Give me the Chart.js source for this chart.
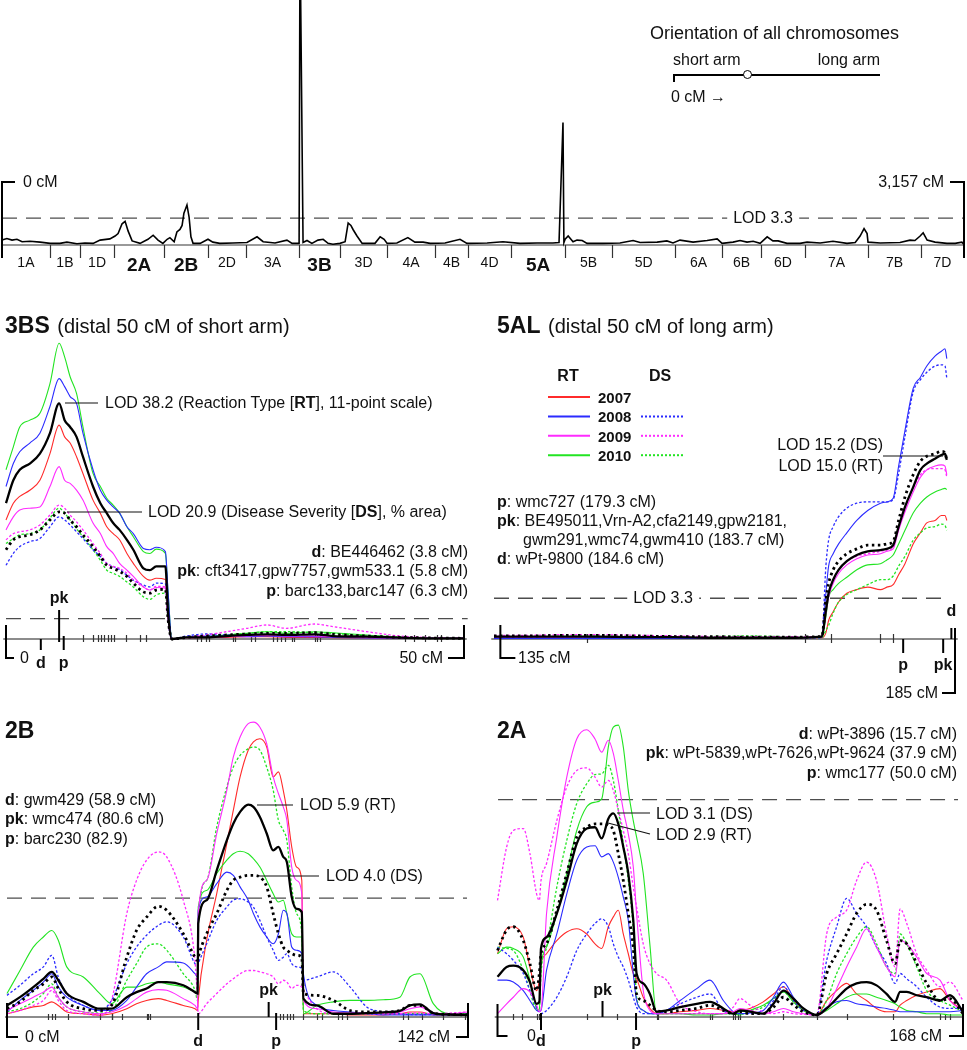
<!DOCTYPE html>
<html>
<head>
<meta charset="utf-8">
<script src="https://cdn.jsdelivr.net/npm/chart.js@4.4.1/dist/chart.umd.min.js"></script>
<style>
html, body { margin: 0; padding: 0; background: #fff; }
#wrap { position: relative; width: 967px; height: 1050px; overflow: hidden; font-family: Arial, "Liberation Sans", sans-serif; color: #111; }
#wrap canvas { position: absolute; left: 0; top: 0; }
.lbl { position: absolute; white-space: nowrap; font-size: 16px; line-height: 1; }
.bg { background: #fff; padding: 0 6px; }
.ttl { font-size: 20px; }
.ttl b { font-size: 23px; margin-right: 2px; }
.chr { font-size: 14px; }
.big { font-size: 19px; font-weight: bold; }
.mk { font-weight: bold; }
.leg { font-weight: bold; font-size: 15px; }
.head { font-size: 18px; }
.orient { position: absolute; }
</style>
</head>
<body>
<div id="wrap">
  <canvas id="cGenome" width="967" height="1050"></canvas>
  <canvas id="c3BS" width="967" height="1050"></canvas>
  <canvas id="c5AL" width="967" height="1050"></canvas>
  <canvas id="c2B" width="967" height="1050"></canvas>
  <canvas id="c2A" width="967" height="1050"></canvas>
  <div class="orient" style="left:673px;top:74px;width:207px;border-top:2px solid #000;"></div>
  <div class="orient" style="left:673px;top:74px;height:8px;border-left:2px solid #000;"></div>
  <div class="orient" style="left:743px;top:70px;width:7px;height:7px;border:1.5px solid #000;border-radius:50%;background:#fff;"></div>
</div>
<script>
const W = 967, H = 1050;
const lodThreshold = 3.3;

// genome-wide scan
const chromNames = ['1A','1B','1D','2A','2B','2D','3A','3B','3D','4A','4B','4D','5A','5B','5D','6A','6B','6D','7A','7B','7D'];
const chromBold = ['2A','2B','3B','5A'];
const chromEnds = [157,256,368,532,676,801,975,1109,1264,1421,1529,1671,1848,2002,2209,2363,2491,2635,2842,3016,3157];
const genomeCM = [0,16,33,49,66,92,125,158,190,213,246,272,299,322,354,371,381,394,404,414,427,453,479,496,512,528,542,551,565,574,584,591,597,607,614,620,627,650,676,692,715,758,804,837,857,896,935,952,975,978,988,1001,1017,1037,1054,1070,1086,1109,1126,1136,1145,1152,1165,1182,1224,1241,1254,1264,1296,1332,1355,1382,1405,1454,1503,1526,1592,1644,1700,1756,1808,1828,1841,1844,1848,1858,1874,1887,1904,1920,1972,2028,2071,2094,2150,2182,2202,2225,2268,2314,2347,2363,2399,2422,2445,2465,2488,2511,2530,2547,2576,2619,2642,2685,2727,2773,2800,2816,2829,2839,2842,2882,2947,2980,2996,3013,3023,3036,3062,3101,3128,3150,3157];
const genomeLOD = [0.6,0.8,0.6,0.7,0.4,0.45,0.35,0.2,0.2,0.35,0.15,0.25,0.2,0.6,0.75,1.1,1.4,2.6,2.9,1.7,0.5,0.2,0.7,1.2,0.6,0.2,0.7,0.9,0.4,1.6,1.9,2.4,3.9,4.9,3.4,1.0,0.2,0.2,0.7,0.35,0.2,0.25,0.3,1.0,0.4,0.25,0.6,0.2,0.2,38.2,0.3,0.55,0.2,0.6,0.7,0.2,0.1,0.2,0.4,2.7,2.4,1.9,1.1,0.2,0.2,1.0,0.7,0.2,0.25,0.9,0.35,0.35,0.2,0.25,0.7,0.2,0.25,0.4,0.2,0.25,0.25,0.3,15.0,0.3,0.7,1.1,0.4,0.6,0.55,0.2,0.2,0.25,0.55,0.3,0.35,0.5,0.25,0.6,0.35,0.55,0.75,0.2,0.35,0.55,0.35,0.45,0.2,1.0,0.5,0.5,0.2,0.2,0.35,0.25,0.45,0.2,0.3,1.1,2.0,1.4,0.35,0.25,0.3,0.6,0.55,1.1,1.5,0.6,0.35,0.2,0.2,0.35,0.05];

// 3BS, distal 50 cM of short arm
const s3bCM = [0,0.8,1.5,2.6,3.7,4.8,5.8,6.4,7.0,7.7,8.4,9.5,10.3,11.0,11.7,12.4,13.2,13.9,15.0,15.7,16.4,17.4,17.7,18.1,19.7,21.9,24.1,26.3,28.5,30.6,33.7,35.7,39.4,43.0,46.6,50];
const s3bRTall = [21.9,25.6,27.3,28.3,29.9,33.2,38.0,35.3,34.2,32.6,29.4,24.6,21.9,20.3,18.7,17.6,16.0,14.4,11.4,11.1,11.7,11.7,4.1,0,0.27,0.27,0.48,0.65,0.75,0.65,0.75,0.48,0.38,0.22,0.11,0.11];
const s3bDSall = [14.4,16.0,16.5,16.8,17.6,19.2,20.5,20.3,19.2,18.1,16.8,14.9,13.3,11.9,11.4,10.9,10.1,9.0,7.6,7.4,7.9,8.0,3.1,0,0.27,0.48,0.65,0.81,0.91,0.91,1.02,0.75,0.48,0.27,0.16,0.11];
const s3bRT2007 = [19.2,21.9,23.0,24.0,25.6,29.9,34.5,32.6,31.6,29.4,26.7,22.4,20.3,18.1,17.0,16.0,13.8,12.2,10.1,9.5,9.8,9.6,3.6,0,0.22,0.27,0.27,0.38,0.38,0.27,0.27,0.22,0.16,0.11,0.11,0.11];
const s3bRT2008 = [24.6,28.3,30.2,31.6,33.2,37.5,42.0,40.7,39.1,38.0,33.2,27.3,24.0,22.4,21.3,20.3,18.1,17.0,14.6,14.4,14.8,14.1,7.4,0,0.27,0.48,0.48,0.38,0.48,0.38,0.38,0.27,0.16,0.11,0.11,0.11];
const s3bRT2009 = [17.6,19.7,20.8,21.1,21.3,24.6,27.8,25.6,25.1,24.0,22.4,18.7,17.0,14.9,13.8,12.2,11.1,10.1,8.4,7.9,8.3,8.2,3.1,0,0.22,0.27,0.38,0.48,0.59,0.48,0.48,0.38,0.27,0.16,0.11,0.11];
const s3bRT2010 = [27.3,31.0,34.2,35.3,36.4,41.2,47.7,45.5,42.3,39.6,34.2,26.7,24.6,22.7,21.6,20.3,18.1,16.5,14.1,13.8,14.5,13.8,7.4,0,0.27,0.38,0.65,0.91,1.18,0.91,1.18,1.0,0.65,0.27,0.16,0.1];
const s3bDS2008 = [11.9,13.8,14.9,15.7,16.2,18.1,19.7,19.2,18.4,17.3,16.2,14.4,13.3,12.2,11.7,11.2,10.3,9.5,8.7,8.4,9.0,8.9,3.1,0,0.48,0.81,0.65,0.48,0.65,0.48,0.38,0.38,0.27,0.16,0.11,0.11];
const s3bDS2009 = [16.0,17.0,17.3,17.6,18.4,20.0,21.6,21.1,20.0,18.9,17.6,15.4,13.8,12.2,11.7,11.4,10.6,9.5,8.4,7.9,8.5,8.4,3.1,0,0.27,0.65,1.18,1.72,2.26,1.72,2.42,2.0,1.18,0.48,0.22,0.11];
const s3bDS2010 = [15.4,16.2,16.8,17.0,17.6,19.5,21.1,20.3,19.2,17.8,16.5,14.4,12.7,11.1,10.6,10.1,9.2,8.4,6.8,6.4,7.1,7.4,3.1,0,0.22,0.38,0.65,0.91,1.18,1.18,1.02,0.91,0.48,0.27,0.16,0.11];
const s3bTicks = [8.4,9.5,10.0,10.4,10.7,11.1,11.5,11.8,13.1,14.6,15.3,20.9,21.3,21.8,22.2,24.8,25.0,26.8,27.2,29.2,29.6,30.0,30.5,31.2,31.4,33.7,34.0,34.3,43.6,44.5,45.7,47.1,47.5];
const s3bMarkerCM = [3.8,5.8,6.3];
const s3bMarkerName = ['d','pk','p'];

// 5AL, distal 50 cM of long arm
const s5aCM = [134.3,138,142,146,150,154,158,162,166,170.35,170.8,171.1,171.6,172.2,173.1,174.2,175.4,176.8,177.5,178.2,178.8,179.5,180.4,181.2,181.9,182.8,183.5,183.9,184.1];
const s5aRTall = [0.2,0.2,0.2,0.2,0.15,0.15,0.1,0.1,0.1,0.2,2.3,3.7,4.8,5.6,6.3,6.8,7.1,7.2,7.3,7.6,9.1,10.7,12.3,13.7,14.2,14.6,14.9,15.0,14.5];
const s5aDSall = [0.25,0.25,0.3,0.3,0.25,0.2,0.2,0.15,0.15,0.2,3.2,4.5,5.6,6.3,6.9,7.3,7.6,7.6,7.7,7.9,9.6,11.5,13.3,14.4,14.8,15.0,15.2,15.1,14.4];
const s5aRT2007 = [0.2,0.2,0.2,0.15,0.15,0.15,0.1,0.1,0.1,0.1,0.5,1.5,2.2,3.0,3.7,4.0,4.2,4.0,4.2,4.4,5.2,6.1,7.7,8.6,9.4,9.6,10.0,10.0,9.6];
const s5aRT2008 = [0.05,0.05,0.05,0.05,0.05,0.05,0.05,0.05,0.1,0.15,3.7,5.9,6.9,7.7,8.6,9.6,10.4,11.0,11.1,11.4,14.0,16.9,20.3,21.2,22.1,22.9,23.3,23.5,22.7];
const s5aRT2009 = [0.15,0.15,0.15,0.2,0.15,0.15,0.1,0.1,0.1,0.15,2.1,3.4,4.5,5.3,6.0,6.5,6.8,6.9,7.1,7.3,8.8,10.3,11.9,13.1,13.7,14.0,14.1,14.0,13.3];
const s5aRT2010 = [0.15,0.15,0.1,0.1,0.1,0.1,0.1,0.1,0.1,0.15,1.8,3.4,4.0,4.5,5.0,5.6,6.0,6.1,6.4,6.8,7.7,8.8,10.2,11.0,11.5,11.9,12.1,12.2,12.1];
const s5aDS2008 = [0.1,0.1,0.1,0.1,0.1,0.1,0.1,0.1,0.1,0.1,5.9,8.0,9.1,9.9,10.6,11.0,11.1,11.1,11.1,11.3,13.4,16.4,20.0,21.0,21.6,22.1,22.2,22.1,21.1];
const s5aDS2009 = [0.3,0.3,0.35,0.35,0.3,0.25,0.2,0.2,0.2,0.2,2.3,3.7,4.8,5.6,6.3,6.7,6.9,7.1,7.2,7.4,9.1,10.6,12.2,13.3,13.7,13.8,13.8,13.7,13.1];
const s5aDS2010 = [0.2,0.2,0.25,0.25,0.25,0.2,0.2,0.25,0.2,0.1,0.7,1.1,2.1,3.0,3.6,4.0,4.4,4.8,4.8,5.1,5.9,6.7,8.0,8.6,9.0,9.1,9.3,9.2,8.8];
const s5aTicks = [144.5,168.5,171.4,176.8,178.2];
const s5aMarkerCM = [179.3,183.7,184.6];
const s5aMarkerName = ['p','pk','d'];
const legendYears = [2007,2008,2009,2010];

// 2B, whole chromosome
const s2bCM = [0,4.0,8.1,11.2,13.8,15.8,18.4,23.5,28.6,32.2,36.9,39.9,43.0,46.6,49.2,54.3,57.9,58.7,58.9,61.5,64.6,67.7,69.7,71.8,74.3,75.9,77.9,80.0,82.0,83.6,85.1,86.2,87.7,89.2,90.8,91.3,95.4,100.5,105.7,110.8,115.9,121.0,124.1,127.2,131.3,136.4,142];
const s2bRTall = [0.32,0.55,0.83,1.06,1.25,1.02,0.65,0.42,0.23,0.23,0.55,0.69,0.79,0.97,0.97,0.88,0.69,0.65,2.59,3.24,4.07,4.9,5.36,5.69,5.89,5.83,5.55,5.09,4.62,4.72,4.44,4.3,3.33,3.0,2.91,0.51,0.32,0.09,0.09,0.11,0.13,0.17,0.32,0.35,0.11,0.07,0.06];
const s2bDSall = [0.23,0.42,0.74,0.92,1.11,0.79,0.42,0.23,0.18,0.32,1.66,2.4,2.77,3.07,2.96,2.31,1.66,1.57,1.66,2.31,2.87,3.51,3.79,3.88,3.93,3.93,3.88,3.61,2.87,2.31,1.94,1.85,1.76,1.71,1.66,0.65,0.6,0.46,0.18,0.14,0.14,0.18,0.32,0.32,0.11,0.07,0.06];
const s2bRT2007 = [0.09,0.18,0.28,0.32,0.42,0.32,0.14,0.09,0.05,0.09,0.23,0.37,0.46,0.51,0.46,0.32,0.23,0.18,0.46,2.13,3.42,4.81,5.73,6.66,7.4,7.63,7.72,7.49,6.66,6.8,6.29,5.73,4.72,4.16,3.79,0.09,0.09,0.09,0.06,0.06,0.06,0.09,0.14,0.14,0.06,0.06,0.06];
const s2bRT2008 = [0.14,0.46,0.74,0.97,1.2,0.83,0.55,0.32,0.18,0.18,0.46,0.83,1.2,1.39,1.53,1.5,1.2,1.11,2.96,3.33,3.7,4.02,3.93,3.61,3.24,2.87,2.5,2.22,2.03,2.31,2.96,2.87,1.94,1.85,1.76,1.2,0.32,0.18,0.14,0.09,0.06,0.06,0.06,0.06,0.06,0.06,0.06];
const s2bRT2009 = [0.18,0.37,0.55,0.69,0.83,0.55,0.28,0.14,0.09,0.14,0.32,0.51,0.69,0.76,0.74,0.51,0.32,0.23,2.87,3.79,5.09,6.29,7.21,7.77,8.14,8.18,8.04,7.58,6.66,6.2,5.83,5.46,4.16,3.79,3.42,0.46,0.23,0.14,0.11,0.11,0.11,0.14,0.23,0.28,0.11,0.09,0.14];
const s2bRT2010 = [0.65,1.29,1.94,2.22,2.4,2.13,1.39,1.11,0.65,0.37,0.83,0.83,0.92,0.97,0.92,0.83,0.69,0.65,3.05,3.51,3.98,4.35,4.53,4.6,4.53,4.39,4.16,3.79,3.42,3.19,3.24,2.87,2.31,2.22,2.22,0.09,0.32,0.42,0.46,0.46,0.48,0.55,1.11,1.2,0.37,0.09,0.09];
const s2bDS2008 = [0.6,0.88,1.2,1.39,1.71,1.11,0.65,0.32,0.18,0.46,1.48,1.94,2.27,2.54,2.64,2.22,1.48,1.43,1.48,2.03,2.68,3.05,3.24,3.28,3.19,3.05,2.68,2.22,1.85,1.57,1.66,1.76,1.48,1.39,1.34,1.02,1.11,1.25,0.83,0.28,0.14,0.09,0.07,0.07,0.07,0.07,0.07];
const s2bDS2009 = [0.09,0.18,0.32,0.46,0.74,0.46,0.18,0.09,0.05,0.46,2.87,3.79,4.35,4.58,4.44,3.24,1.57,0.46,0.09,0.37,0.65,0.92,1.06,1.2,1.29,1.29,1.25,1.2,1.11,0.92,1.02,0.97,0.79,0.88,0.83,0.74,0.23,0.09,0.09,0.09,0.09,0.09,0.11,0.11,0.09,0.11,0.14];
const s2bDS2010 = [0.14,0.23,0.42,0.65,0.92,0.55,0.28,0.14,0.11,0.18,1.02,1.48,1.94,2.03,1.85,1.2,0.74,0.46,2.68,3.79,5.27,6.38,6.93,7.26,7.44,7.49,7.4,6.93,6.29,5.46,5.18,4.9,3.61,2.87,2.31,0.18,0.09,0.09,0.09,0.09,0.09,0.09,0.09,0.09,0.09,0.09,0.09];
const s2bTicks = [12.7,13.8,14.8,18.9,28.6,32.2,32.4,35.3,43.0,43.5,44.0,84.1,85.1,86.2,87.2,88.2,91.3,95.4,96.9,102.1,103.1,104.6,122.1,123.6,127.7,134.4,141.1];
const s2bMarkerCM = [58.9,80.6,82.9];
const s2bMarkerName = ['d','pk','p'];

// 2A, whole chromosome
const s2aCM = [0,3.3,5.7,9.3,11.7,14.1,15.1,15.7,17.7,21.4,25.0,28.6,32.2,35.2,37.6,40.0,41.8,43.6,45.4,47.2,49.0,50.2,52.6,55.0,57.4,61.0,65.9,71.9,76.7,81.5,85.1,87.5,91.1,95.9,99.6,103.2,106.8,110.4,115.2,118.8,122.4,126.0,129.6,133.2,136.8,140.4,143.5,145.3,147.7,151.3,154.9,159.7,163.3,168];
const s2aRTall = [0.61,0.76,0.78,0.71,0.53,0.2,0.23,1.04,1.21,1.57,2.07,2.63,2.86,2.88,2.71,3.01,3.09,2.93,2.58,2.18,1.47,0.66,0.51,0.35,0.08,0.1,0.15,0.2,0.23,0.13,0.05,0.1,0.08,0.05,0.2,0.4,0.28,0.13,0.03,0.13,0.28,0.43,0.51,0.53,0.48,0.35,0.23,0.38,0.38,0.33,0.3,0.25,0.33,0.08];
const s2aDSall = [1.01,1.32,1.37,1.16,0.81,0.4,0.66,0.96,1.11,1.62,2.18,2.73,2.88,2.93,2.93,2.91,2.83,2.48,2.07,1.57,1.06,0.35,0.25,0.18,0.1,0.08,0.1,0.13,0.18,0.1,0.05,0.08,0.05,0.05,0.15,0.3,0.18,0.08,0.03,0.66,0.96,1.26,1.57,1.71,1.62,1.16,0.81,1.16,1.11,0.81,0.51,0.25,0.28,0.05];
const s2aRT2007 = [0.96,1.34,1.37,1.21,0.76,0.4,0.56,0.81,0.96,1.16,1.29,1.34,1.26,1.11,1.04,1.37,1.52,1.62,1.26,0.96,0.66,0.58,0.3,0.13,0.05,0.05,0.08,0.1,0.13,0.1,0.08,0.1,0.13,0.23,0.35,0.46,0.25,0.1,0.03,0.25,0.4,0.51,0.35,0.25,0.13,0.08,0.08,0.18,0.25,0.33,0.38,0.43,0.25,0.1];
const s2aRT2008 = [0.56,0.56,0.53,0.4,0.25,0.1,0.08,0.1,0.71,1.26,1.87,2.38,2.58,2.6,2.43,2.48,2.35,2.12,1.82,1.47,0.66,0.25,0.1,0.05,0.05,0.1,0.25,0.43,0.56,0.25,0.08,0.05,0.06,0.1,0.3,0.53,0.3,0.13,0.03,0.15,0.23,0.25,0.2,0.18,0.15,0.13,0.1,0.08,0.08,0.08,0.08,0.08,0.08,0.1];
const s2aRT2009 = [0.05,0.2,0.3,0.43,0.38,0.18,0.08,0.1,1.57,2.73,3.64,4.22,4.36,4.22,4.02,4.2,4.0,3.59,3.14,2.78,2.28,1.57,0.4,0.1,0.05,0.05,0.05,0.05,0.05,0.05,0.08,0.13,0.1,0.05,0.08,0.13,0.08,0.05,0.03,0.13,0.43,0.76,1.06,1.34,1.06,0.76,0.61,1.16,1.11,0.91,0.66,0.56,0.25,0.1];
const s2aRT2010 = [0.96,1.06,1.04,0.91,0.56,0.13,0.1,0.76,1.06,1.57,2.18,2.83,3.19,3.26,3.31,4.1,4.4,4.43,4.1,3.44,2.98,2.73,2.18,1.1,0.05,0.05,0.05,0.03,0.03,0.05,0.05,0.03,0.1,0.18,0.28,0.38,0.23,0.1,0.03,0.1,0.2,0.3,0.35,0.35,0.3,0.25,0.2,0.15,0.1,0.08,0.05,0.05,0.03,0.03];
const s2aDS2008 = [1.06,0.96,0.86,0.66,0.4,0.15,0.08,0.05,0.1,0.3,0.61,1.01,1.26,1.42,1.49,1.37,1.11,0.91,0.76,0.56,0.3,0.15,0.05,0.05,0.05,0.1,0.2,0.3,0.35,0.1,0.05,0.05,0.05,0.05,0.25,0.46,0.25,0.1,0.03,0.86,1.37,1.8,1.57,1.37,1.06,0.81,0.51,0.66,0.58,0.46,0.3,0.15,0.13,0.13];
const s2aDS2009 = [1.77,2.58,2.83,2.86,2.48,1.87,1.77,2.07,2.33,2.98,3.49,3.74,3.78,3.64,3.49,3.59,3.44,3.14,2.83,2.48,1.97,1.67,1.11,0.81,0.66,0.56,0.2,0.08,0.05,0.05,0.15,0.28,0.18,0.08,0.05,0.08,0.05,0.04,0.03,1.26,1.52,1.62,2.07,2.35,2.07,1.26,0.76,1.64,1.42,0.96,0.71,0.46,0.53,0.25];
const s2aDS2010 = [1.06,1.04,1.01,0.71,0.4,0.1,0.1,0.66,1.06,1.97,2.68,3.24,3.54,3.68,3.69,3.82,3.59,3.14,2.63,2.07,1.32,0.3,0.1,0.05,0.05,0.05,0.05,0.05,0.05,0.05,0.05,0.08,0.1,0.15,0.28,0.38,0.23,0.1,0.03,0.25,0.66,0.96,1.21,1.37,1.11,0.76,0.66,1.26,1.11,0.76,0.4,0.25,0.18,0.08];
const s2aTicks = [5.7,9.0,14.1,15.0,32.2,43.0,57.4,58.0,76.7,77.3,85.1,85.7,86.9,87.5,103.2,115.2,126.0,142.9,159.7,161.5,163.3];
const s2aMarkerCM = [15.7,37.9,50.0];
const s2aMarkerName = ['d','pk','p'];

const yearColor = {2007: '#ff2b2b', 2008: '#2b2bff', 2009: '#ff2bff', 2010: '#22e422'};

const wrap = document.getElementById('wrap');
function addText(html, x, y, align, cls) {
    const d = document.createElement('div');
    d.className = 'lbl ' + (cls || '');
    d.innerHTML = html;
    d.style.left = x + 'px';
    d.style.top = y + 'px';
    const tx = align === 'right' ? '-100%' : align === 'center' ? '-50%' : '0';
    d.style.transform = 'translate(' + tx + ', -50%)';
    wrap.appendChild(d);
}

function pts(xs, ys) {
    return xs.map((x, i) => ({ x: x, y: ys[i] }));
}
function solid(xs, ys, color, width) {
    return { data: pts(xs, ys), borderColor: color, borderWidth: width || 1.1, pointRadius: 0,
             fill: false, clip: false, cubicInterpolationMode: 'monotone' };
}
function dotted(xs, ys, color, width, dash) {
    const d = solid(xs, ys, color, width || 1.3);
    d.borderDash = dash || [2.5, 2];
    return d;
}
function threshold(x0, x1) {
    return { data: [{ x: x0, y: lodThreshold }, { x: x1, y: lodThreshold }], borderColor: '#4d4d4d',
             borderWidth: 1.3, borderDash: [15, 9], pointRadius: 0, clip: false };
}

function seg(ctx, x1, y1, x2, y2) {
    ctx.beginPath();
    ctx.moveTo(x1, y1);
    ctx.lineTo(x2, y2);
    ctx.stroke();
}

const decorPlugin = {
    id: 'decor',
    beforeDatasetsDraw(chart, args, o) {
        const ctx = chart.ctx, xs = chart.scales.x;
        const y0 = chart.scales.y.getPixelForValue(0);
        ctx.save();
        ctx.strokeStyle = o.baseColor || '#666';
        ctx.lineWidth = 1.5;
        seg(ctx, xs.getPixelForValue(o.base[0]), y0, xs.getPixelForValue(o.base[1]), y0);
        ctx.strokeStyle = '#333';
        ctx.lineWidth = 1.2;
        (o.ticks || []).forEach(v => {
            const x = Math.round(xs.getPixelForValue(v)) + 0.5;
            seg(ctx, x, y0 - o.tickUp, x, y0 + o.tickDown);
        });
        ctx.restore();
    },
    afterDatasetsDraw(chart, args, o) {
        const ctx = chart.ctx, xs = chart.scales.x;
        const y0 = chart.scales.y.getPixelForValue(0);
        ctx.save();
        ctx.strokeStyle = '#000';
        ctx.lineWidth = 2;
        (o.marks || []).forEach(m => {
            const x = xs.getPixelForValue(m.v);
            seg(ctx, x, y0 - m.up, x, y0 + m.down);
        });
        (o.brackets || []).forEach(b => {
            const x = xs.getPixelForValue(b.v);
            const ya = b.armTop ? y0 - b.up : y0 + b.down;
            const yb = b.armTop ? y0 + b.down : y0 - b.up;
            ctx.beginPath();
            ctx.moveTo(x + b.arm, ya);
            ctx.lineTo(x, ya);
            ctx.lineTo(x, yb);
            ctx.stroke();
        });
        ctx.strokeStyle = '#111';
        ctx.lineWidth = 1.2;
        (o.leaders || []).forEach(l => seg(ctx, l[0], l[1], l[2], l[3]));
        if (o.legendRows) {
            o.legendRows.forEach((r, i) => {
                const y = 397 + i * 19.4;
                ctx.setLineDash([]);
                ctx.lineWidth = 2;
                ctx.strokeStyle = yearColor[r];
                seg(ctx, 548, y, 590, y);
                if (r !== 2007) {
                    ctx.setLineDash([2, 2]);
                    seg(ctx, 641, y, 683, y);
                }
            });
        }
        ctx.restore();
    }
};

function makeChart(id, area, xr, yMax, datasets, decor) {
    return new Chart(document.getElementById(id), {
        type: 'line',
        data: { datasets: datasets },
        options: {
            responsive: false,
            animation: false,
            events: [],
            layout: { padding: { left: area[0], top: area[1], right: W - area[2], bottom: H - area[3] } },
            scales: {
                x: { type: 'linear', min: xr[0], max: xr[1], display: false },
                y: { type: 'linear', min: 0, max: yMax, display: false }
            },
            plugins: { legend: { display: false }, tooltip: { enabled: false }, decor: decor }
        },
        plugins: [decorPlugin]
    });
}

function panelSets(xs, rtAll, dsAll, rt07, rt08, rt09, rt10, ds08, ds09, ds10) {
    return [
        solid(xs, rtAll, '#000', 2.3),
        dotted(xs, dsAll, '#000', 2.8, [2.5, 3.5]),
        solid(xs, rt09, yearColor[2009]),
        dotted(xs, ds09, yearColor[2009]),
        solid(xs, rt08, yearColor[2008]),
        dotted(xs, ds08, yearColor[2008]),
        solid(xs, rt10, yearColor[2010]),
        dotted(xs, ds10, yearColor[2010]),
        solid(xs, rt07, yearColor[2007])
    ];
}

function markerLabels(chart, pos, names, upName, upOff, downOff) {
    const xs = chart.scales.x, y0 = chart.scales.y.getPixelForValue(0);
    pos.forEach((v, i) => {
        const up = names[i] === upName;
        addText(names[i], xs.getPixelForValue(v), up ? y0 - upOff : y0 + downOff, 'center', 'mk');
    });
}
function markerTicks(pos, names, style) {
    return pos.map((v, i) => ({ v: v, up: style[names[i]][0], down: style[names[i]][1] }));
}

// ---- genome-wide panel ----
const gChart = makeChart('cGenome', [2, 0, 964, 245], [0, 3157], 30, [
    { data: pts(genomeCM, genomeLOD), borderColor: '#000', borderWidth: 1.6, pointRadius: 0, tension: 0, clip: false },
    threshold(0, 3157)
], {
    base: [0, 3157], baseColor: '#777',
    ticks: chromEnds.slice(0, -1), tickUp: 0, tickDown: 13,
    brackets: [{ v: 0, up: 63, down: 13, arm: 13, armTop: true }, { v: 3157, up: 63, down: 13, arm: -14, armTop: true }]
});
let prevEnd = 0;
chromEnds.forEach((e, i) => {
    const cx = gChart.scales.x.getPixelForValue((prevEnd + e) / 2);
    const big = chromBold.includes(chromNames[i]);
    addText(chromNames[i], cx, big ? 264 : 262, 'center', big ? 'big' : 'chr');
    prevEnd = e;
});
addText('0 cM', 23, 182, 'left');
addText('3,157 cM', 944, 182, 'right');
addText('LOD 3.3', 763, 218, 'center', 'bg');
addText('Orientation of all chromosomes', 650, 33, 'left', 'head');
addText('short arm', 673, 60, 'left');
addText('long arm', 880, 60, 'right');
addText('0 cM &rarr;', 671, 97, 'left');

// ---- 3BS ----
const c3b = makeChart('c3BS', [6, 335.2, 464, 639], [0, 50], 49,
    panelSets(s3bCM, s3bRTall, s3bDSall, s3bRT2007, s3bRT2008, s3bRT2009, s3bRT2010, s3bDS2008, s3bDS2009, s3bDS2010)
        .concat([threshold(0, 50.4)]), {
    base: [-0.3, 50.3], ticks: s3bTicks, tickUp: 4, tickDown: 3,
    marks: markerTicks(s3bMarkerCM, s3bMarkerName, { d: [0, 11], pk: [29, 3], p: [3, 11] }),
    brackets: [{ v: 0, up: 14, down: 19, arm: 8 }, { v: 50, up: 14, down: 19, arm: -16 }],
    leaders: [[65, 403, 98, 403], [67, 512, 142, 512]]
});
markerLabels(c3b, s3bMarkerCM, s3bMarkerName, 'pk', 41, 24);
addText('<b>3BS</b> (distal 50 cM of short arm)', 5, 325, 'left', 'ttl');
addText('LOD 38.2 (Reaction Type [<b>RT</b>], 11-point scale)', 105, 403, 'left');
addText('LOD 20.9 (Disease Severity [<b>DS</b>], % area)', 148, 512, 'left');
addText('<b>d</b>: BE446462 (3.8 cM)', 468, 552, 'right');
addText('<b>pk</b>: cft3417,gpw7757,gwm533.1 (5.8 cM)', 468, 571, 'right');
addText('<b>p</b>: barc133,barc147 (6.3 cM)', 468, 591, 'right');
addText('0', 20, 658, 'left');
addText('50 cM', 443, 658, 'right');

// ---- 5AL ----
const c5a = makeChart('c5AL', [494, 342.6, 955, 639], [134.3, 185], 24,
    panelSets(s5aCM, s5aRTall, s5aDSall, s5aRT2007, s5aRT2008, s5aRT2009, s5aRT2010, s5aDS2008, s5aDS2009, s5aDS2010)
        .concat([threshold(134.3, 184.1)]), {
    base: [134.0, 185.3], ticks: s5aTicks, tickUp: 5, tickDown: 4,
    marks: markerTicks(s5aMarkerCM, s5aMarkerName, { p: [0, 14], pk: [0, 14], d: [11, 0] }),
    brackets: [{ v: 135, up: 14, down: 19, arm: 15 }, { v: 185, up: 11, down: 54, arm: -13 }],
    leaders: [[883, 456, 943, 456]],
    legendRows: legendYears
});
markerLabels(c5a, s5aMarkerCM, s5aMarkerName, 'd', 28, 26);
addText('<b>5AL</b> (distal 50 cM of long arm)', 497, 325, 'left', 'ttl');
addText('<b>RT</b>', 568, 376, 'center');
addText('<b>DS</b>', 660, 376, 'center');
legendYears.forEach((yr, i) => addText(String(yr), 598, 397 + i * 19.4, 'left', 'leg'));
addText('LOD 15.2 (DS)', 883, 445, 'right');
addText('LOD 15.0 (RT)', 883, 466, 'right');
addText('<b>p</b>: wmc727 (179.3 cM)', 497, 502, 'left');
addText('<b>pk</b>: BE495011,Vrn-A2,cfa2149,gpw2181,', 497, 521, 'left');
addText('gwm291,wmc74,gwm410 (183.7 cM)', 523, 540, 'left');
addText('<b>d</b>: wPt-9800 (184.6 cM)', 497, 559, 'left');
addText('LOD 3.3', 663, 598, 'center', 'bg');
addText('135 cM', 518, 658, 'left');
addText('185 cM', 938, 693, 'right');

// ---- 2B ----
const c2b = makeChart('c2B', [7, 710.6, 468, 1017], [0, 142], 8.5,
    panelSets(s2bCM, s2bRTall, s2bDSall, s2bRT2007, s2bRT2008, s2bRT2009, s2bRT2010, s2bDS2008, s2bDS2009, s2bDS2010)
        .concat([threshold(0, 141.7)]), {
    base: [-0.6, 142.3], ticks: s2bTicks, tickUp: 3, tickDown: 3,
    marks: markerTicks(s2bMarkerCM, s2bMarkerName, { d: [4, 13], pk: [15, 0], p: [4, 13] }),
    brackets: [{ v: 0, up: 14, down: 20, arm: 11 }, { v: 142, up: 14, down: 20, arm: -12 }],
    leaders: [[257, 805, 293, 805], [258, 876, 319, 876]]
});
markerLabels(c2b, s2bMarkerCM, s2bMarkerName, 'pk', 27, 24);
addText('<b>2B</b>', 5, 730, 'left', 'ttl');
addText('<b>d</b>: gwm429 (58.9 cM)', 5, 800, 'left');
addText('<b>pk</b>: wmc474 (80.6 cM)', 5, 819, 'left');
addText('<b>p</b>: barc230 (82.9)', 5, 839, 'left');
addText('LOD 5.9 (RT)', 300, 805, 'left');
addText('LOD 4.0 (DS)', 326, 876, 'left');
addText('0 cM', 25, 1037, 'left');
addText('142 cM', 450, 1037, 'right');

// ---- 2A ----
const c2a = makeChart('c2A', [497.5, 713.9, 963, 1017], [0, 168], 4.6,
    panelSets(s2aCM, s2aRTall, s2aDSall, s2aRT2007, s2aRT2008, s2aRT2009, s2aRT2010, s2aDS2008, s2aDS2009, s2aDS2010)
        .concat([threshold(0.2, 166.2)]), {
    base: [-1, 168.3], ticks: s2aTicks, tickUp: 3, tickDown: 3,
    marks: markerTicks(s2aMarkerCM, s2aMarkerName, { d: [4, 13], pk: [16, 0], p: [4, 13] }),
    brackets: [{ v: 0, up: 13, down: 19, arm: 10 }, { v: 168, up: 13, down: 19, arm: -14 }],
    leaders: [[617, 813, 650, 813], [608, 823, 650, 834]]
});
markerLabels(c2a, s2aMarkerCM, s2aMarkerName, 'pk', 27, 24);
addText('<b>2A</b>', 497, 730, 'left', 'ttl');
addText('<b>d</b>: wPt-3896 (15.7 cM)', 957, 734, 'right');
addText('<b>pk</b>: wPt-5839,wPt-7626,wPt-9624 (37.9 cM)', 957, 753, 'right');
addText('<b>p</b>: wmc177 (50.0 cM)', 957, 773, 'right');
addText('LOD 3.1 (DS)', 656, 814, 'left');
addText('LOD 2.9 (RT)', 656, 835, 'left');
addText('0', 527, 1036, 'left');
addText('168 cM', 942, 1036, 'right');
</script>
</body>
</html>
